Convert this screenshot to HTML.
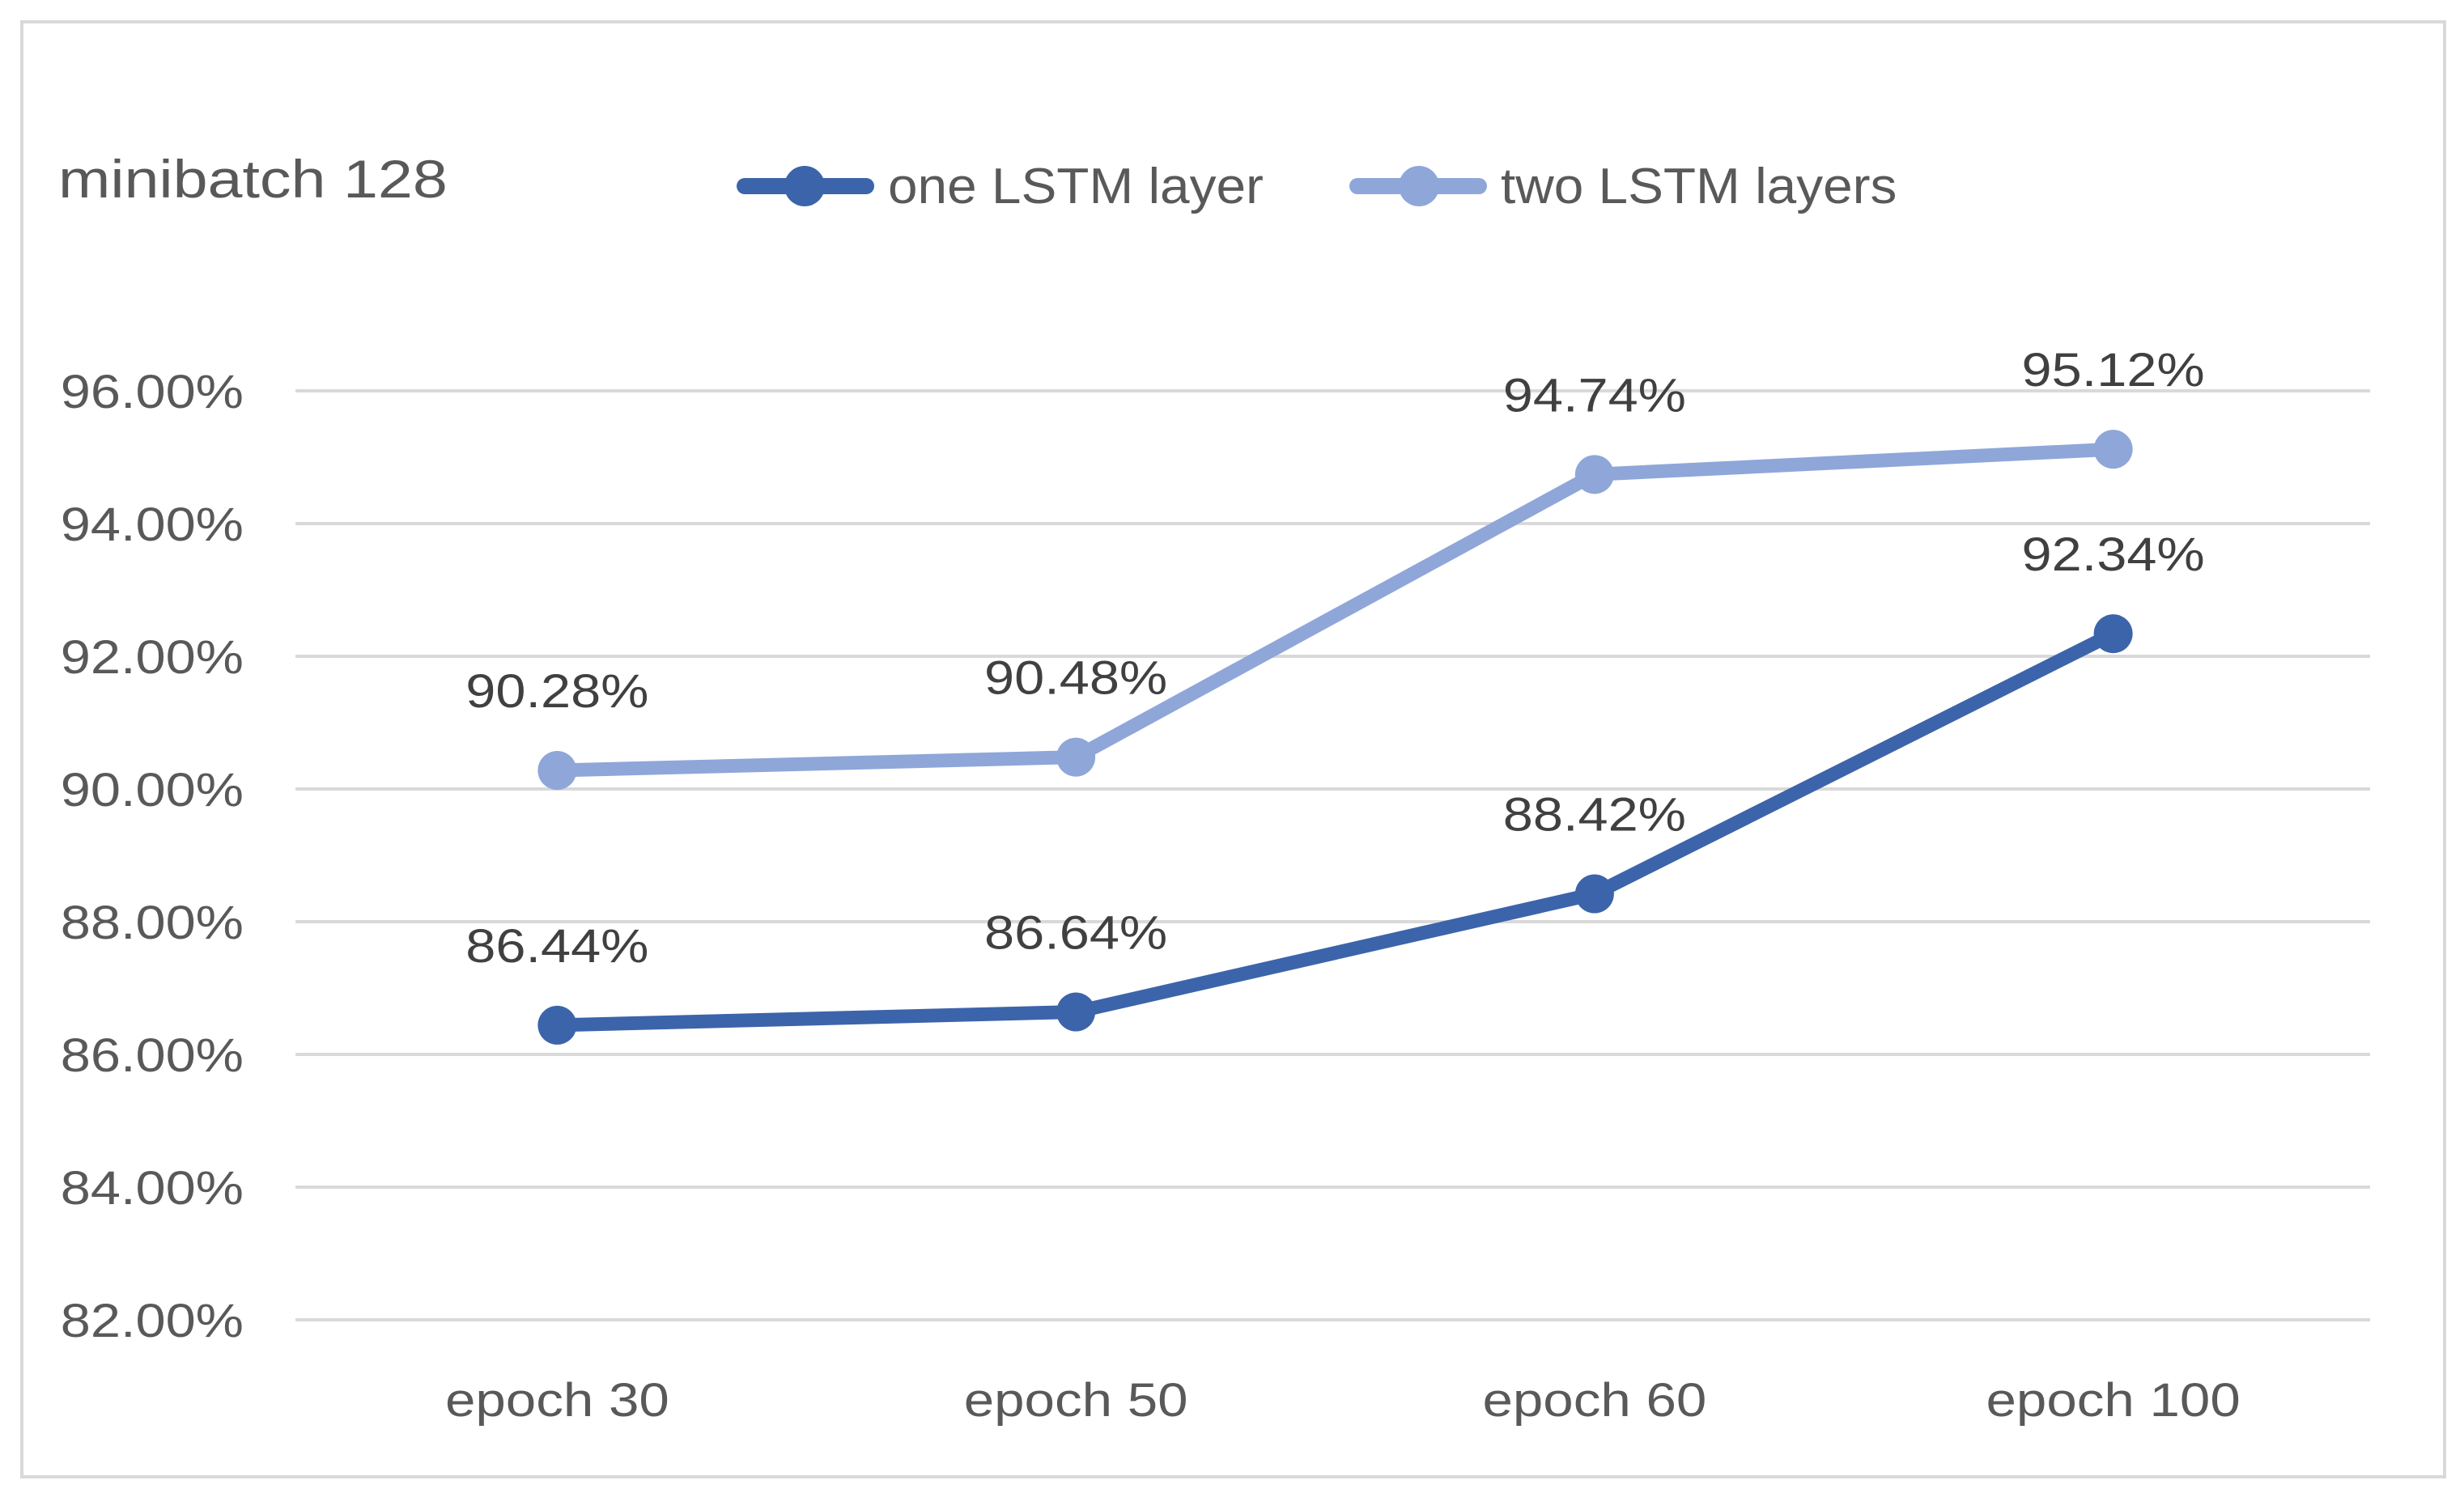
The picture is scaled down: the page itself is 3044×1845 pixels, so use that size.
<!DOCTYPE html>
<html><head><meta charset="utf-8"><style>
html,body{margin:0;padding:0;background:#fff}
svg{display:block}
text{font-family:"Liberation Sans",sans-serif}
</style></head><body>
<svg id="chart" width="3044" height="1845" viewBox="0 0 3044 1845">
<rect x="27" y="27" width="2993" height="1798" fill="#fff" stroke="#d9d9d9" stroke-width="4"/>
<text class="st" data-s="1.17" x="72" y="244" font-size="66" fill="#595959">minibatch 128</text>
<g>
<g>
<line x1="920" y1="230" x2="1070" y2="230" stroke="#3C64AA" stroke-width="20" stroke-linecap="round"/>
<circle cx="994" cy="230" r="25" fill="#3C64AA"/>
<text class="st" data-s="1.06" x="1097" y="251" font-size="62" fill="#595959">one LSTM layer</text>
</g>
<g>
<line x1="1677" y1="230" x2="1827" y2="230" stroke="#8FA6D9" stroke-width="20" stroke-linecap="round"/>
<circle cx="1753" cy="230" r="25" fill="#8FA6D9"/>
<text class="st" data-s="1.06" x="1854" y="251" font-size="62" fill="#595959">two LSTM layers</text>
</g>
</g>
<g id="grid"></g><g id="yticks"></g><g id="xticks"></g><g id="series"></g>
</svg>
<script>
const categories = ["epoch 30","epoch 50","epoch 60","epoch 100"];
const oneLayer = [86.44, 86.64, 88.42, 92.34];
const twoLayers = [90.28, 90.48, 94.74, 95.12];
const yTicks = [82, 84, 86, 88, 90, 92, 94, 96];
const NS = "http://www.w3.org/2000/svg";
const plotL = 368, plotR = 2931;
function xPos(i){ return plotL + (plotR - plotL) / categories.length * (i + 0.5); }
function yPos(v){ return 483 + (96 - v) * 82; }
function mk(tag, attrs, parent){ const e=document.createElementNS(NS,tag); for(const k in attrs) e.setAttribute(k,attrs[k]); parent.appendChild(e); return e; }
const grid=document.getElementById('grid'), yt=document.getElementById('yticks'), xt=document.getElementById('xticks'), ser=document.getElementById('series');
yTicks.forEach(v=>{
  const l=mk('line',{x1:365,x2:2928,y1:yPos(v),y2:yPos(v),stroke:'#d9d9d9','stroke-width':4},grid);
  
  
  const t=mk('text',{x:301,y:yPos(v)+21,'font-size':58,fill:'#595959','text-anchor':'end',class:'st','data-s':'1.15'},yt);
  t.textContent=v.toFixed(2)+'%';
  
  
});
categories.forEach((c,i)=>{
  const t=mk('text',{x:xPos(i),y:1750,'font-size':58,fill:'#595959','text-anchor':'middle',class:'st','data-s':'1.16'},xt);
  t.textContent=c;
  
  
});
function drawSeries(vals,color,name){
  const g=mk('g',{},ser);
  
  
  const pts=vals.map((v,i)=>xPos(i)+','+yPos(v)).join(' ');
  const pl=mk('polyline',{points:pts,fill:'none',stroke:color,'stroke-width':17,'stroke-linejoin':'round','stroke-linecap':'round'},g);
  
  
  vals.forEach((v,i)=>{
    const c=mk('circle',{cx:xPos(i),cy:yPos(v),r:24,fill:color},g);
    
    
    const t=mk('text',{x:xPos(i),y:yPos(v)-78,'font-size':58,fill:'#404040','text-anchor':'middle',class:'st','data-s':'1.15'},g);
    t.textContent=v.toFixed(2)+'%';
    
    
  });
}
drawSeries(twoLayers,'#8FA6D9','two-lstm-series');
drawSeries(oneLayer,'#3C64AA','one-lstm-series');
document.querySelectorAll('text.st').forEach(t=>{
  const w=t.getComputedTextLength()*parseFloat(t.getAttribute('data-s'));
  t.setAttribute('textLength',w);
  t.setAttribute('lengthAdjust','spacingAndGlyphs');
});
</script>
</body></html>
